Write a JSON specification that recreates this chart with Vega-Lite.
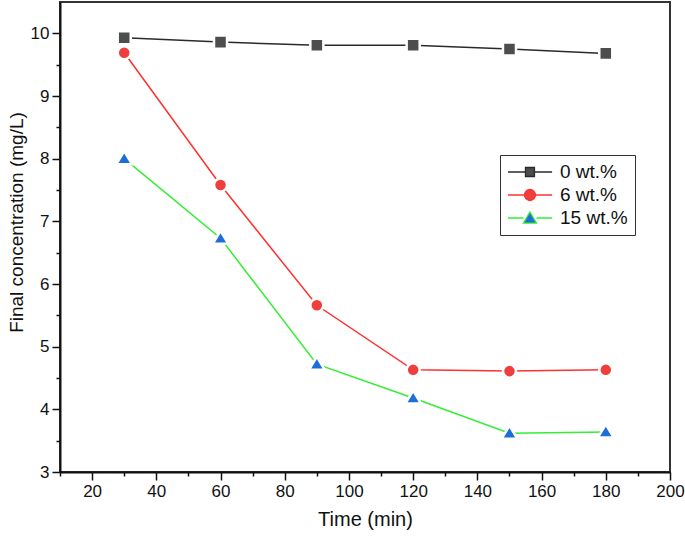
{
  "$schema": "https://vega.github.io/schema/vega-lite/v6.json",
  "width": 610,
  "height": 470,
  "autosize": {"type": "none"},
  "padding": {"left": 60, "top": 2, "right": 15, "bottom": 68},
  "background": "white",
  "config": {
    "font": "Liberation Sans",
    "view": {"stroke": "#333", "strokeWidth": 2},
    "axis": {
      "grid": false,
      "domainColor": "#111",
      "domainWidth": 2,
      "tickColor": "#111",
      "tickWidth": 1.5,
      "labelFont": "Liberation Sans",
      "labelFontSize": 17,
      "labelColor": "#111",
      "labelPadding": 3,
      "titleFont": "Liberation Sans",
      "titleFontSize": 20,
      "titleFontWeight": "normal",
      "titleColor": "#111",
      "labelOverlap": false,
      "labelFlush": false
    }
  },
  "data": {
    "values": [
      {"t": 30, "c": 9.93, "series": "0 wt.%"},
      {"t": 60, "c": 9.86, "series": "0 wt.%"},
      {"t": 90, "c": 9.81, "series": "0 wt.%"},
      {"t": 120, "c": 9.81, "series": "0 wt.%"},
      {"t": 150, "c": 9.75, "series": "0 wt.%"},
      {"t": 180, "c": 9.68, "series": "0 wt.%"},
      {"t": 30, "c": 9.69, "series": "6 wt.%"},
      {"t": 60, "c": 7.58, "series": "6 wt.%"},
      {"t": 90, "c": 5.66, "series": "6 wt.%"},
      {"t": 120, "c": 4.63, "series": "6 wt.%"},
      {"t": 150, "c": 4.61, "series": "6 wt.%"},
      {"t": 180, "c": 4.63, "series": "6 wt.%"},
      {"t": 30, "c": 8.0, "series": "15 wt.%"},
      {"t": 60, "c": 6.73, "series": "15 wt.%"},
      {"t": 90, "c": 4.72, "series": "15 wt.%"},
      {"t": 120, "c": 4.18, "series": "15 wt.%"},
      {"t": 150, "c": 3.62, "series": "15 wt.%"},
      {"t": 180, "c": 3.64, "series": "15 wt.%"}
    ]
  },
  "encoding": {
    "x": {
      "field": "t",
      "type": "quantitative",
      "scale": {"domain": [10, 200], "nice": false, "zero": false},
      "axis": {
        "title": "Time (min)",
        "titlePadding": 10,
        "values": [10, 20, 30, 40, 50, 60, 70, 80, 90, 100, 110, 120, 130, 140, 150, 160, 170, 180, 190, 200],
        "labelExpr": "datum.value % 20 === 0 ? datum.label : ''",
        "tickSize": {"condition": {"test": "datum.value % 20 === 0", "value": 8}, "value": 4}
      }
    },
    "y": {
      "field": "c",
      "type": "quantitative",
      "scale": {"domain": [3, 10.5], "nice": false, "zero": false},
      "axis": {
        "title": "Final concentration (mg/L)",
        "titleFontSize": 19,
        "titleX": -44,
        "titleY": 220,
        "titleBaseline": "middle",
        "format": "~g",
        "values": [3, 3.5, 4, 4.5, 5, 5.5, 6, 6.5, 7, 7.5, 8, 8.5, 9, 9.5, 10],
        "labelExpr": "datum.value % 1 === 0 ? datum.label : ''",
        "tickSize": {"condition": {"test": "datum.value % 1 === 0", "value": 8}, "value": 4}
      }
    }
  },
  "layer": [
    {
      "mark": {"type": "line", "strokeWidth": 1.5},
      "encoding": {
        "stroke": {
          "field": "series",
          "type": "nominal",
          "scale": {"domain": ["0 wt.%", "6 wt.%", "15 wt.%"], "range": ["#2a2a2a", "#ff3030", "#33ee33"]},
          "legend": {
            "title": null,
            "orient": "none",
            "legendX": 440,
            "legendY": 153,
            "padding": 7,
            "rowPadding": 3,
            "strokeColor": "#333",
            "symbolSize": 324,
            "labelFont": "Liberation Sans",
            "labelFontSize": 19,
            "labelColor": "#111",
            "labelOffset": 33,
            "encode": {
              "symbols": {
                "update": {
                  "size": {"value": 324},
                  "opacity": {"value": 1},
                  "strokeWidth": {"value": 1.3},
                  "shape": {"signal": "datum.value === '0 wt.%' ? 'M-1,0H0.94M1.94,0H3.9M0.94,-0.5H1.94V0.5H0.94Z' : datum.value === '6 wt.%' ? 'M-1,0H0.83M2.05,0H3.9M2.05,0A0.61,0.61 0 1,1 0.83,0A0.61,0.61 0 1,1 2.05,0Z' : 'M-1,0H0.72M2.16,0H3.9M1.44,-0.67L2.16,0.56L0.72,0.56Z'"},
                  "fill": {"signal": "datum.value === '0 wt.%' ? '#4d4d4d' : datum.value === '6 wt.%' ? '#ef3e3e' : '#1e6ed8'"}
                }
              }
            }
          }
        }
      }
    },
    {
      "mark": {"type": "point", "filled": true, "opacity": 1, "stroke": "white", "strokeWidth": 2.5, "size": 170},
      "encoding": {
        "fill": {
          "field": "series",
          "type": "nominal",
          "scale": {"domain": ["15 wt.%", "0 wt.%", "6 wt.%"], "range": ["#1e6ed8", "#4d4d4d", "#ef3e3e"]},
          "legend": null
        },
        "shape": {
          "field": "series",
          "type": "nominal",
          "scale": {"domain": ["15 wt.%", "0 wt.%", "6 wt.%"], "range": ["M0,-1.15L1.2,0.85L-1.2,0.85Z", "square", "circle"]},
          "legend": null
        }
      }
    }
  ]
}
